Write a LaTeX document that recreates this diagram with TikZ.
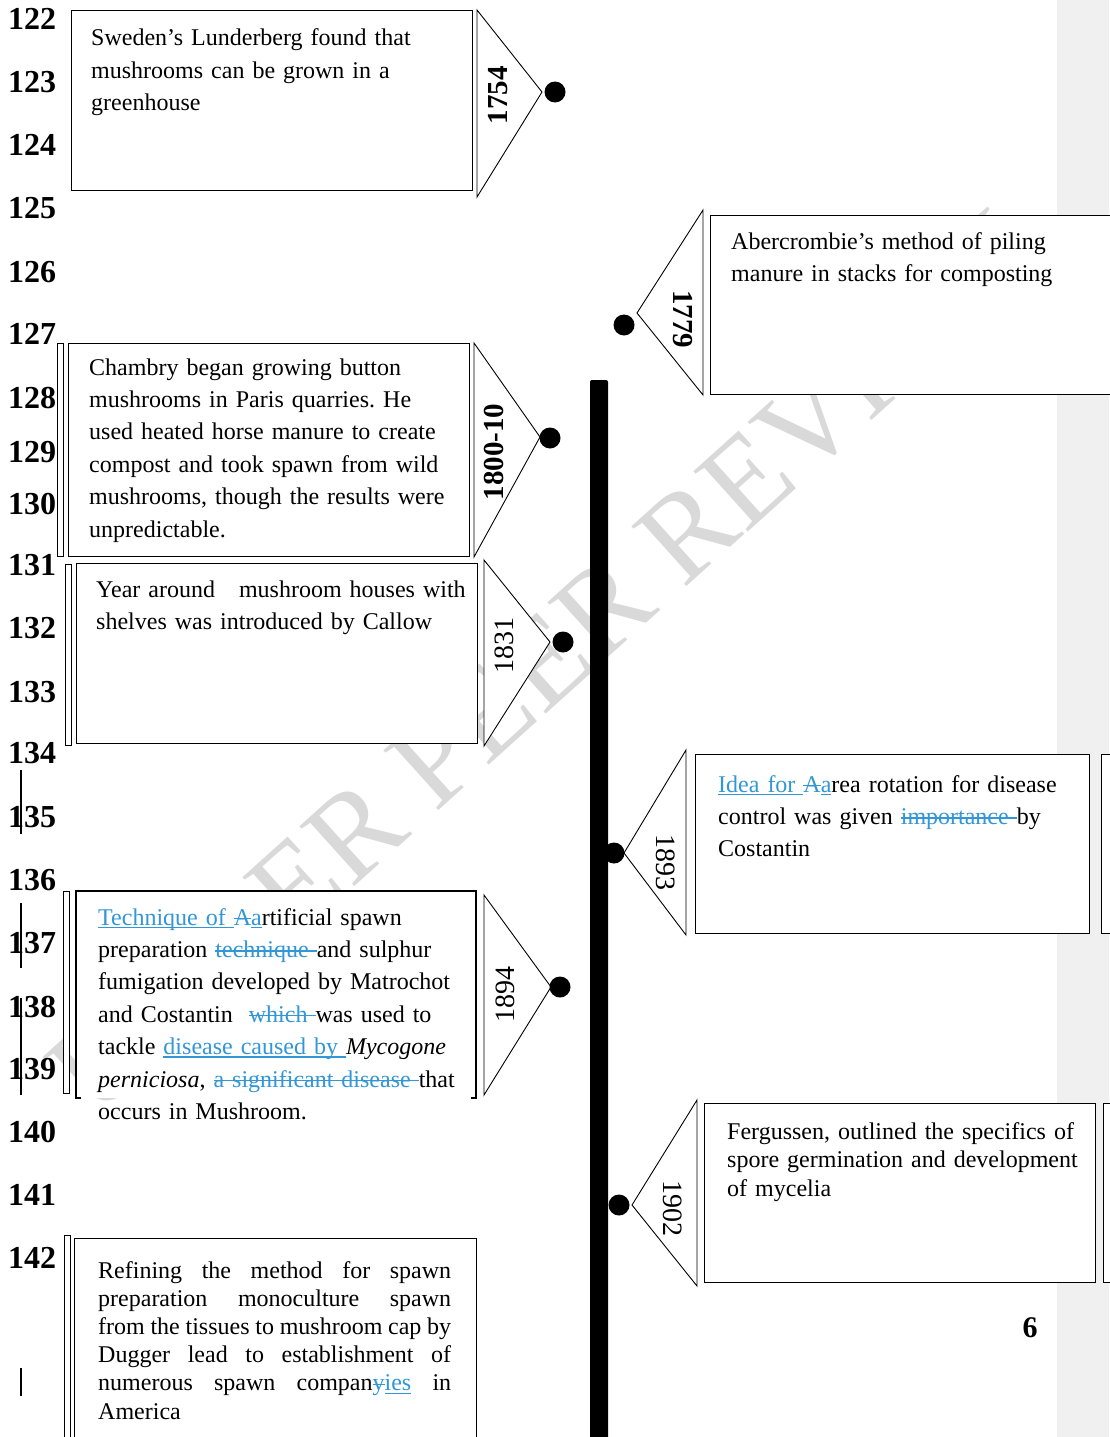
\documentclass[tikz,border=0pt]{standalone}
\usepackage{fontspec}
\setmainfont{Liberation Serif}
\usepackage{xcolor}
\definecolor{tc}{RGB}{50,150,215}
\definecolor{wmgray}{RGB}{217,217,217}
\definecolor{band}{RGB}{240,240,240}
\frenchspacing
\newcommand{\tcins}[1]{{\color{tc}\setbox0\hbox{#1}\rlap{\rule[-3pt]{\wd0}{1.3pt}}\box0}}
\newcommand{\tcdel}[1]{{\color{tc}\setbox0\hbox{#1}\rlap{\rule[5.8pt]{\wd0}{1.3pt}}\box0}}
\tikzset{
  boxr/.style={draw, line width=1.2pt, fill=white, inner sep=0pt, anchor=north west},
  narrow/.style={draw, line width=1pt, fill=white, inner sep=0pt, anchor=north west, minimum width=6pt},
  tri/.style={draw, line width=0.9pt, fill=white, line join=miter},
  dot/.style={circle, fill=black, minimum size=21pt, inner sep=0pt},
  bodytext/.style={anchor=base west, inner sep=0pt, align=left, text width=390pt, font={\fontsize{24}{32.4}\selectfont}},
  yearb/.style={inner sep=0pt, font={\fontsize{29}{29}\selectfont\bfseries}},
  yearn/.style={inner sep=0pt, font={\fontsize{28}{28}\selectfont}},
  lnum/.style={anchor=base west, inner sep=0pt, font={\fontsize{32}{32}\selectfont\bfseries}},
  lnbar/.style={line width=2.4pt},
}
\begin{document}
\begin{tikzpicture}[x=1pt,y=-1pt]
\useasboundingbox (0,0) rectangle (1109,1437);
\fill[white] (0,0) rectangle (1109,1437);
% watermark
\begin{scope}
\clip (0,207) rectangle (1109,1437);
\node[anchor=base west, rotate=42, inner sep=0pt, text=wmgray, font={\fontsize{124}{124}\selectfont}] (wmark) at (95,1120) {UNDER PEER REVIEW};
\end{scope}
% grey band
\fill[band] (1057,0) rectangle (1109,1437);
% timeline bar
\fill[black, rounded corners=2pt] (590,380) rectangle (608,1460);

% line numbers
\foreach \n/\c in {122/18,123/81,124/144,125/207,126/271,127/333,128/397,129/451,130/503,131/564,132/627,133/691,134/752,135/816,136/879,137/942,138/1006,139/1068,140/1131,141/1194,142/1257}
  \node[lnum] (ln\n) at (8,\c+11.5) {\n};
\draw[lnbar] (21,770) -- (21,834);
\draw[lnbar] (21,903) -- (21,968);
\draw[lnbar] (21,998) -- (21,1095);
\draw[lnbar] (21,1368) -- (21,1396);

% ---- 1754
\node[boxr, minimum width=401pt, minimum height=180pt] (b1754) at (71,10) {};
\draw[tri] (477,10) -- (542,92) -- (477,197) -- cycle;
\node[yearb, rotate=90] (y1754) at (498,95) {1754};
\node[dot] (d1754) at (555,92) {};
\node[bodytext] (t1754) at (91,46) {Sweden’s Lunderberg found that\\ mushrooms can be grown in a\\ greenhouse};

% ---- 1779
\node[boxr, minimum width=420pt, minimum height=179pt] (b1779) at (710,215) {};
\draw[tri] (703,210) -- (637,313) -- (703,395) -- cycle;
\node[yearb, rotate=-90] (y1779) at (683,319) {1779};
\node[dot] (d1779) at (624,325) {};
\node[bodytext] (t1779) at (731,249) {Abercrombie’s method of piling\\ manure in stacks for composting};

% ---- 1800-10
\node[narrow, minimum height=213pt] (n1800) at (57,343) {};
\node[boxr, minimum width=401pt, minimum height=213pt] (b1800) at (68,343) {};
\draw[tri] (474,343) -- (540,437) -- (474,557) -- cycle;
\node[yearb, rotate=90] (y1800) at (494,452) {1800-10};
\node[dot] (d1800) at (550,438) {};
\node[bodytext] (t1800) at (89,375) {Chambry began growing button\\ mushrooms in Paris quarries. He\\ used heated horse manure to create\\ compost and took spawn from wild\\ mushrooms, though the results were\\ unpredictable.};

% ---- 1831
\node[narrow, minimum height=181pt] (n1831) at (65,564) {};
\node[boxr, minimum width=401pt, minimum height=180pt] (b1831) at (76,563) {};
\draw[tri] (484,560) -- (550,642) -- (484,746) -- cycle;
\node[yearn, rotate=90] (y1831) at (504,645) {1831};
\node[dot] (d1831) at (563,642) {};
\node[bodytext] (t1831) at (96,597) {Year around\ \ \ mushroom houses with\\ shelves was introduced by Callow};

% ---- 1893
\node[boxr, minimum width=394pt, minimum height=179pt] (b1893) at (695,754) {};
\node[boxr, minimum width=20pt, minimum height=179pt] (e1893) at (1101,754) {};
\draw[tri] (686,750) -- (624,853) -- (686,935) -- cycle;
\node[yearn, rotate=-90] (y1893) at (666,862) {1893};
\node[dot] (d1893) at (614,853) {};
\node[bodytext] (t1893) at (718,792) {\tcins{Idea for }\tcdel{A}\tcins{a}rea rotation for disease\\ control was given \tcdel{importance }by\\ Costantin};

% ---- 1894
\node[narrow, minimum height=202pt] (n1894) at (63,891) {};
\fill[white] (76,891) rectangle (476,1098);
\draw[line width=1.2pt] (81,1098) -- (76,1098) -- (76,891) coordinate (b1894nw) -- (476,891) -- (476,1098) -- (471,1098);
\draw[tri] (484,895) -- (551,987) -- (484,1095) -- cycle;
\node[yearn, rotate=90] (y1894) at (505,994) {1894};
\node[dot] (d1894) at (560,987) {};
\node[bodytext] (t1894) at (98,925) {\tcins{Technique of }\tcdel{A}\tcins{a}rtificial spawn\\ preparation \tcdel{technique }and sulphur\\ fumigation developed by Matrochot\\ and Costantin\ \ \tcdel{which }was used to\\ tackle \tcins{disease caused by }\textit{Mycogone}\\ \textit{perniciosa}, \tcdel{a significant disease }that\\ occurs in Mushroom.};

% ---- 1902
\node[boxr, minimum width=391pt, minimum height=179pt] (b1902) at (704,1103) {};
\node[boxr, minimum width=20pt, minimum height=179pt] (e1902) at (1103,1103) {};
\draw[tri] (697,1100) -- (632,1205) -- (697,1286) -- cycle;
\node[yearn, rotate=-90] (y1902) at (673,1208) {1902};
\node[dot] (d1902) at (619,1205) {};
\node[bodytext, font={\fontsize{24}{28.5}\selectfont}] (t1902) at (727,1139) {Fergussen, outlined the specifics of\\ spore germination and development\\ of mycelia};

% ---- bottom box
\node[narrow, minimum height=230pt] (n1940) at (64,1235) {};
\node[boxr, minimum width=402pt, minimum height=230pt] (b1940) at (74,1238) {};
\node[anchor=base west, inner sep=0pt, align=justify, text width=353pt, font={\fontsize{24}{28.2}\selectfont}] (t1940) at (98,1278) {Refining the method for spawn\linebreak preparation monoculture spawn\linebreak from the tissues to mushroom cap by\linebreak Dugger lead to establishment of\linebreak numerous spawn compan\tcdel{y}\tcins{ies} in\linebreak America};

% page number
\node[inner sep=0pt, font={\fontsize{30}{30}\selectfont\bfseries}] (pnum) at (1030,1328) {6};
\end{tikzpicture}
\end{document}
